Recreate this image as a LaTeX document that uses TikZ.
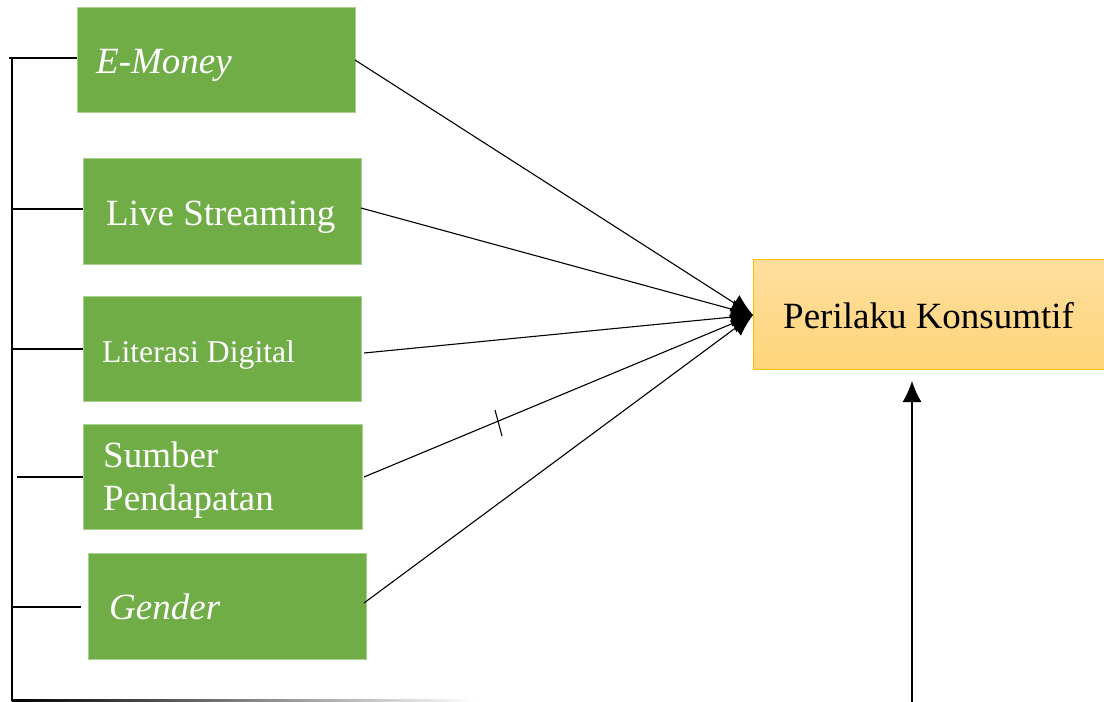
\documentclass[tikz,border=0pt]{standalone}
\usepackage{fontspec}
\setmainfont{Liberation Serif}
\usetikzlibrary{arrows.meta}
\definecolor{boxgreen}{HTML}{70AD47}
\definecolor{boxgreenline}{HTML}{A9D18E}
\definecolor{orangetop}{HTML}{FFDE9E}
\definecolor{orangebot}{HTML}{FFD47A}
\definecolor{orangeline}{HTML}{FFC000}
\begin{document}
\begin{tikzpicture}[x=1pt,y=-1pt,
  gbox/.style={draw=boxgreenline,line width=0.8pt,fill=boxgreen,rectangle,inner sep=0pt,anchor=north west},
  lbl/.style={anchor=base west,inner sep=0pt,text=white,font=\fontsize{37}{43}\selectfont},
  conn/.style={line width=1.1pt,draw=black},
  arr/.style={conn,-{Latex[length=22pt,width=19pt]}}]
\useasboundingbox (0,0) rectangle (1104,702);
% boxes
\node[gbox,minimum width=278pt,minimum height=105pt] (em) at (77,7) {};
\node[gbox,minimum width=278pt,minimum height=106pt] (ls) at (83,158) {};
\node[gbox,minimum width=278pt,minimum height=105pt] (ld) at (83,296) {};
\node[gbox,minimum width=279pt,minimum height=105pt] (sp) at (83,424) {};
\node[gbox,minimum width=278pt,minimum height=106pt] (gd) at (88,553) {};
\node[draw=orangeline,line width=0.8pt,top color=orangetop,bottom color=orangebot,rectangle,inner sep=0pt,anchor=north west,minimum width=353pt,minimum height=110pt] (pk) at (753,259) {};
% labels
\node[lbl] (t1) at (96,73) {\itshape E-Money};
\node[lbl] (t2) at (106,225) {Live Streaming};
\node[lbl,font=\fontsize{31.7}{38}\selectfont] (t3) at (102,362) {Literasi Digital};
\node[lbl] (t4) at (103,467) {Sumber};
\node[lbl] (t5) at (103,510) {Pendapatan};
\node[lbl] (t6) at (109,619) {\itshape Gender};
\node[lbl,text=black] (t7) at (783,328) {Perilaku Konsumtif};
% coordinates
\coordinate (tip) at (753,315);
\coordinate (e1) at (355,60);
\coordinate (e2) at (361,208);
\coordinate (e3) at (364,353);
\coordinate (e4) at (364,477);
\coordinate (e5) at (364,603);
\coordinate (l1) at (9,58);
\coordinate (l2) at (12,209);
\coordinate (l3) at (12,349);
\coordinate (l4) at (17,477);
\coordinate (l5) at (12,607);
\coordinate (vtop) at (12,58);
\coordinate (vbot) at (12,700);
\coordinate (up0) at (912,702);
\coordinate (up1) at (912,381);
\coordinate (k1) at (495,410);
\coordinate (k2) at (502,436);
% arrows to dependent variable
\draw[arr] (e1) -- (tip);
\draw[arr] (e2) -- (tip);
\draw[arr] (e3) -- (tip);
\draw[arr] (e4) -- (tip);
\draw[arr] (e5) -- (tip);
\draw[conn] (k1) -- (k2);
% left bracket
\draw[conn] (l1) -- (em.west |- l1);
\draw[conn] (l2) -- (ls.west |- l2);
\draw[conn] (l3) -- (ld.west |- l3);
\draw[conn] (l4) -- (sp.west |- l4);
\draw[conn] (l5) -- (81,607);
\draw[conn] (vtop) -- (vbot);
\shade[left color=black,right color=white] (11.5,699) rectangle (475,701.5);
% upward arrow
\draw[conn,-{Latex[length=21pt,width=19pt]}] (up0) -- (up1);
\end{tikzpicture}
\end{document}
